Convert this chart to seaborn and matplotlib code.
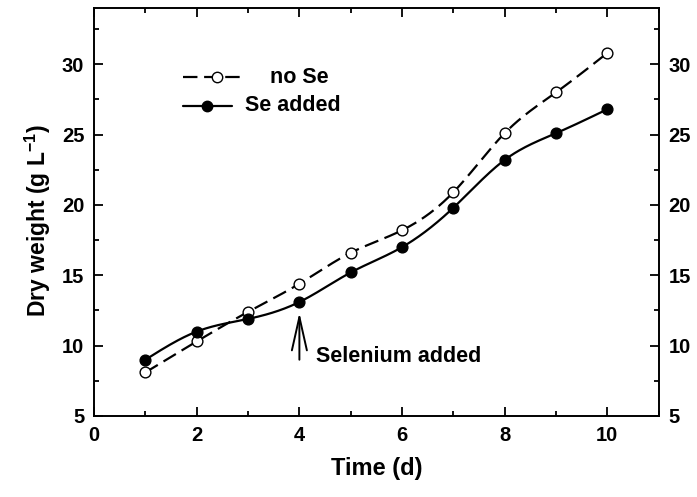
import numpy as np
import pandas as pd
import matplotlib
matplotlib.use("Agg")
import matplotlib.pyplot as plt
from matplotlib.lines import Line2D
from matplotlib.ticker import MultipleLocator
import seaborn as sns

# Culture dry weight over time
days = [1, 2, 3, 4, 5, 6, 7, 8, 9, 10]
no_se = [8.1, 10.3, 12.4, 14.4, 16.6, 18.2, 20.9, 25.1, 28.0, 30.8]
se_added = [9.0, 11.0, 11.9, 13.1, 15.2, 17.0, 19.8, 23.2, 25.1, 26.8]
x_ticks = [0, 2, 4, 6, 8, 10]
y_ticks = [5, 10, 15, 20, 25, 30]


def natural_spline(x, y, n=300):
    """Smooth curve through the measured points (natural cubic spline)."""
    x = np.asarray(x, float)
    y = np.asarray(y, float)
    k = len(x)
    h = np.diff(x)
    A = np.zeros((k, k))
    b = np.zeros(k)
    A[0, 0] = A[-1, -1] = 1.0
    for i in range(1, k - 1):
        A[i, i - 1] = h[i - 1]
        A[i, i] = 2 * (h[i - 1] + h[i])
        A[i, i + 1] = h[i]
        b[i] = 3 * ((y[i + 1] - y[i]) / h[i] - (y[i] - y[i - 1]) / h[i - 1])
    c = np.linalg.solve(A, b)
    xs = np.linspace(x[0], x[-1], n)
    idx = np.clip(np.searchsorted(x, xs) - 1, 0, k - 2)
    dx = xs - x[idx]
    bb = (y[idx + 1] - y[idx]) / h[idx] - h[idx] * (2 * c[idx] + c[idx + 1]) / 3
    dd = (c[idx + 1] - c[idx]) / (3 * h[idx])
    ys = y[idx] + bb * dx + c[idx] * dx ** 2 + dd * dx ** 3
    return xs, ys


sns.set_theme(style="ticks")
plt.rcParams["font.family"] = ["Liberation Sans", "DejaVu Sans"]
plt.rcParams["font.weight"] = "bold"
plt.rcParams["mathtext.fontset"] = "custom"
plt.rcParams["mathtext.rm"] = "Liberation Sans:bold"
plt.rcParams["mathtext.bf"] = "Liberation Sans:bold"
for key in ["text.color", "axes.labelcolor", "xtick.color", "ytick.color",
            "axes.edgecolor"]:
    plt.rcParams[key] = "black"

DASH = [6.5, 3]

fig = plt.figure(figsize=(6.97, 4.97), dpi=100)
ax = fig.add_axes([0.135, 0.163, 0.81, 0.821])

pts = pd.DataFrame({"day": days, "no_se": no_se, "se_added": se_added})

xs, ys = natural_spline(days, no_se)
curve_no = pd.DataFrame({"day": xs, "w": ys})
xs2, ys2 = natural_spline(days, se_added)
curve_se = pd.DataFrame({"day": xs2, "w": ys2})

sns.lineplot(data=curve_no, x="day", y="w", ax=ax, color="black", lw=1.6,
             sort=False)
ax.lines[-1].set_dashes(DASH)
sns.lineplot(data=curve_se, x="day", y="w", ax=ax, color="black", lw=1.6,
             sort=False)

sns.scatterplot(data=pts, x="day", y="no_se", ax=ax, marker="o", s=60,
                facecolor="white", edgecolor="black", linewidth=1.0, zorder=5)
sns.scatterplot(data=pts, x="day", y="se_added", ax=ax, marker="o", s=60,
                color="black", edgecolor="black", linewidth=1.0, zorder=5)

ax.set_xlim(0, 11)
ax.set_ylim(5, 34)
ax.set_xticks(x_ticks)
ax.set_yticks(y_ticks)
ax.xaxis.set_minor_locator(MultipleLocator(1))
ax.yaxis.set_minor_locator(MultipleLocator(2.5))
ax.tick_params(which="both", direction="in", top=True, right=True,
               labelright=True, color="black", width=1.3)
ax.tick_params(which="major", length=6.5, labelsize=14.5, pad=7)
ax.tick_params(which="minor", length=3.5)
for t in ax.xaxis.get_major_ticks() + ax.yaxis.get_major_ticks():
    t.label1.set_fontweight("bold")
    t.label2.set_fontweight("bold")
for sp in ax.spines.values():
    sp.set_visible(True)
    sp.set_color("black")
    sp.set_linewidth(1.4)

ax.set_xlabel("Time (d)", fontsize=17, fontweight="bold", labelpad=9)
ax.set_ylabel(r"Dry weight (g L$^{\mathbf{-1}}$)", fontsize=16.5,
              fontweight="bold")
ax.yaxis.set_label_coords(-0.073, 0.478)

# Legend drawn by hand
tr = ax.transAxes
ax.add_line(Line2D([0.157, 0.263], [0.830, 0.830], transform=tr, color="black",
                   lw=1.6, dashes=DASH))
ax.add_line(Line2D([0.217], [0.830], transform=tr, marker="o", markersize=7.5,
                   markerfacecolor="white", markeredgecolor="black", ls="none"))
ax.add_line(Line2D([0.157, 0.244], [0.760, 0.760], transform=tr, color="black",
                   lw=1.6))
ax.add_line(Line2D([0.200], [0.760], transform=tr, marker="o", markersize=7.5,
                   markerfacecolor="black", markeredgecolor="black", ls="none"))
ax.text(0.311, 0.830, "no Se", transform=tr, fontsize=15.5, fontweight="bold",
        va="center", ha="left")
ax.text(0.268, 0.760, "Se added", transform=tr, fontsize=15.5,
        fontweight="bold", va="center", ha="left")

ax.annotate("", xy=(4, 12.35), xytext=(4, 9.0),
            arrowprops=dict(arrowstyle="->,head_length=2.0,head_width=0.45",
                            color="black", lw=1.4, shrinkA=0, shrinkB=0))
ax.text(4.33, 9.25, "Selenium added", fontsize=15.5, fontweight="bold",
        va="center", ha="left")

fig.savefig("out.png", dpi=100)
